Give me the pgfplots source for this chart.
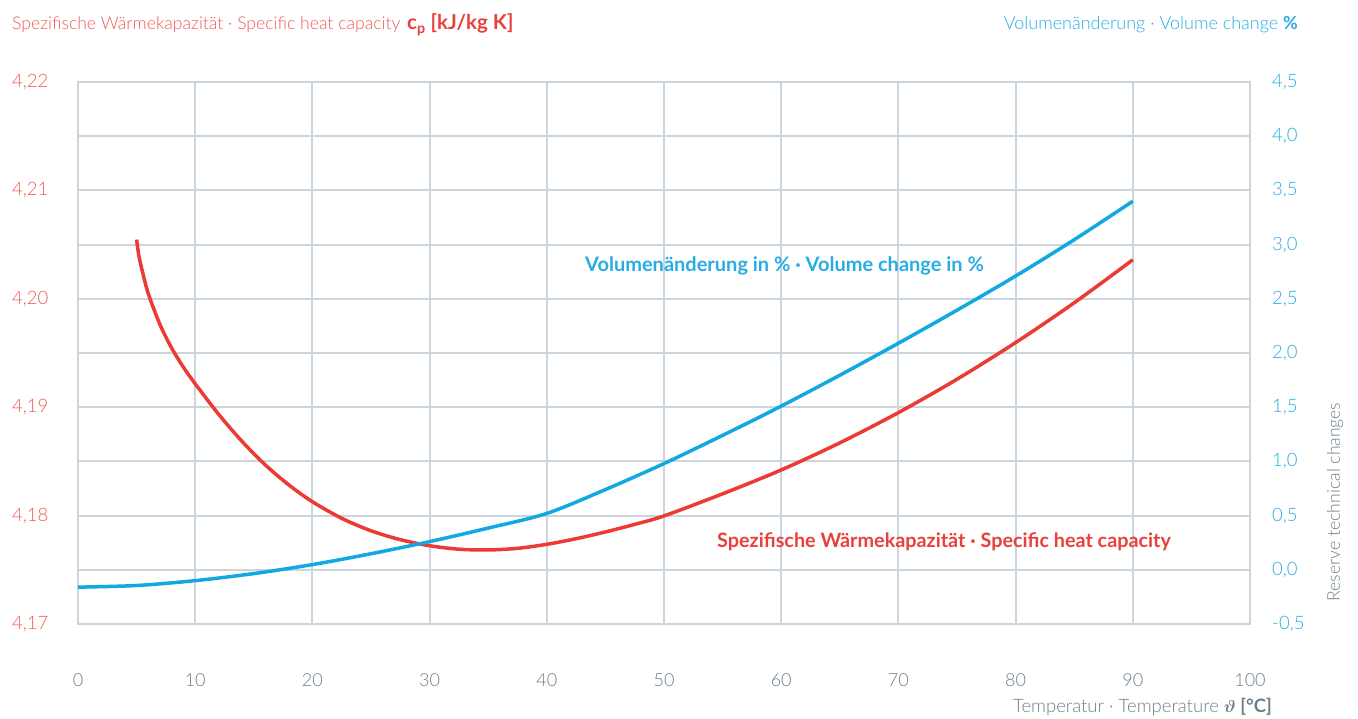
\documentclass[border=0pt]{standalone}
\usepackage{pgfplots}
\pgfplotsset{compat=1.18}
\usepackage{fontspec}
\setmainfont{Lato}[UprightFont={* Light}, BoldFont={* Bold}]
\definecolor{cred}{RGB}{235,59,52}
\definecolor{cblue}{RGB}{18,169,226}
\definecolor{tred}{RGB}{238,90,86}
\definecolor{bred}{RGB}{232,64,58}
\definecolor{tblue}{RGB}{40,172,228}
\definecolor{cgrid}{RGB}{205,213,220}
\definecolor{cgrey}{RGB}{110,126,138}

\pgfplotstableread{
x y
5 4.20546
5.2 4.20393
5.5 4.20250
6 4.20047
7 4.19761
8 4.19544
9 4.19368
10 4.19216
12 4.18935
14 4.18684
16 4.18466
18 4.18282
20 4.18128
22.5 4.17975
25 4.17860
27.5 4.17778
30 4.17722
32.5 4.17690
35 4.17683
37.5 4.17698
40 4.17735
42.5 4.17787
45 4.17849
47.5 4.17919
50 4.17997
55 4.18201
60 4.18421
65 4.18671
70 4.18950
75 4.19258
80 4.19596
85 4.19963
90 4.20360
}\cpdata

\pgfplotstableread{
x y
0 -0.16
5 -0.145
10 -0.10
15 -0.035
20 0.048
25 0.148
30 0.26
35 0.385
40 0.52
45 0.74
50 0.98
55 1.24
60 1.51
65 1.795
70 2.09
75 2.395
80 2.71
85 3.045
90 3.40
}\voldata

\begin{document}
\begin{tikzpicture}
\path[use as bounding box] (-78pt,-94pt) rectangle (1280pt,624pt);
\begin{axis}[
  at={(0pt,0pt)}, anchor=south west,
  scale only axis, width=1172pt, height=542pt,
  xmin=0, xmax=100, ymin=4.17, ymax=4.22,
  xtick={0,10,20,30,40,50,60,70,80,90,100},
  ytick={4.17,4.18,4.19,4.20,4.21,4.22},
  minor ytick={4.175,4.185,4.195,4.205,4.215},
  major tick length=0pt, minor tick length=0pt,
  grid=both,
  major grid style={draw=cgrid, line width=2pt},
  minor grid style={draw=cgrid, line width=2pt},
  axis line style={draw=cgrid, line width=2pt},
  /pgf/number format/assume math mode=true,
  yticklabel style={anchor=west, inner sep=0pt, xshift=-66pt, text=tred,
    font=\fontsize{18.5}{21}\selectfont,
    /pgf/number format/.cd, use comma, fixed, fixed zerofill, precision=2},
  xticklabel style={anchor=north, inner sep=0pt, yshift=-49pt, text=cgrey,
    font=\fontsize{18}{21}\selectfont},
]
\addplot[cred, line width=3.5pt, smooth, tension=0.5] table[x=x,y=y] {\cpdata};
\end{axis}
\begin{axis}[
  at={(0pt,0pt)}, anchor=south west,
  scale only axis, width=1172pt, height=542pt,
  xmin=0, xmax=100, ymin=-0.5, ymax=4.5,
  hide x axis,
  axis y line*=right,
  axis line style={draw=none},
  ytick={-0.5,0,0.5,1,1.5,2,2.5,3,3.5,4,4.5},
  major tick length=0pt,
  /pgf/number format/assume math mode=true,
  yticklabel style={anchor=west, inner sep=0pt, xshift=22pt, text=tblue,
    font=\fontsize{18.5}{21}\selectfont,
    /pgf/number format/.cd, use comma, fixed, fixed zerofill, precision=1},
]
\addplot[cblue, line width=3.5pt, smooth] table[x=x,y=y] {\voldata};
\end{axis}

\node[anchor=base west, inner sep=0pt, text=tred, font=\fontsize{17.6}{20}\selectfont]
  at (-66pt,594pt) {Spezifische Wärmekapazität · Specific heat capacity\hspace{7pt}{\color{bred}\bfseries\fontsize{20.5}{23}\selectfont c\textsubscript{p} [kJ/kg K]}};
\node[anchor=base east, inner sep=0pt, text=tblue, font=\fontsize{18}{20}\selectfont]
  at (1220pt,594pt) {Volumenänderung · Volume change \textbf{\%}};
\node[anchor=base west, inner sep=0pt, text=tblue, font=\bfseries\fontsize{20}{23}\selectfont]
  at (507pt,352pt) {Volumenänderung in \% · Volume change in \%};
\node[anchor=base west, inner sep=0pt, text=bred, font=\bfseries\fontsize{19.8}{23}\selectfont]
  at (639pt,76pt) {Spezifische Wärmekapazität · Specific heat capacity};
\node[anchor=base east, inner sep=0pt, text=cgrey, font=\fontsize{18.5}{21}\selectfont]
  at (1194pt,-88pt) {Temperatur · Temperature \textbf{{\boldmath$\vartheta$} [°C]}};
\node[rotate=90, inner sep=0pt, text=cgrey, font=\fontsize{17.6}{20}\selectfont]
  at (1257pt,122pt) {Reserve technical changes};
\end{tikzpicture}
\end{document}
